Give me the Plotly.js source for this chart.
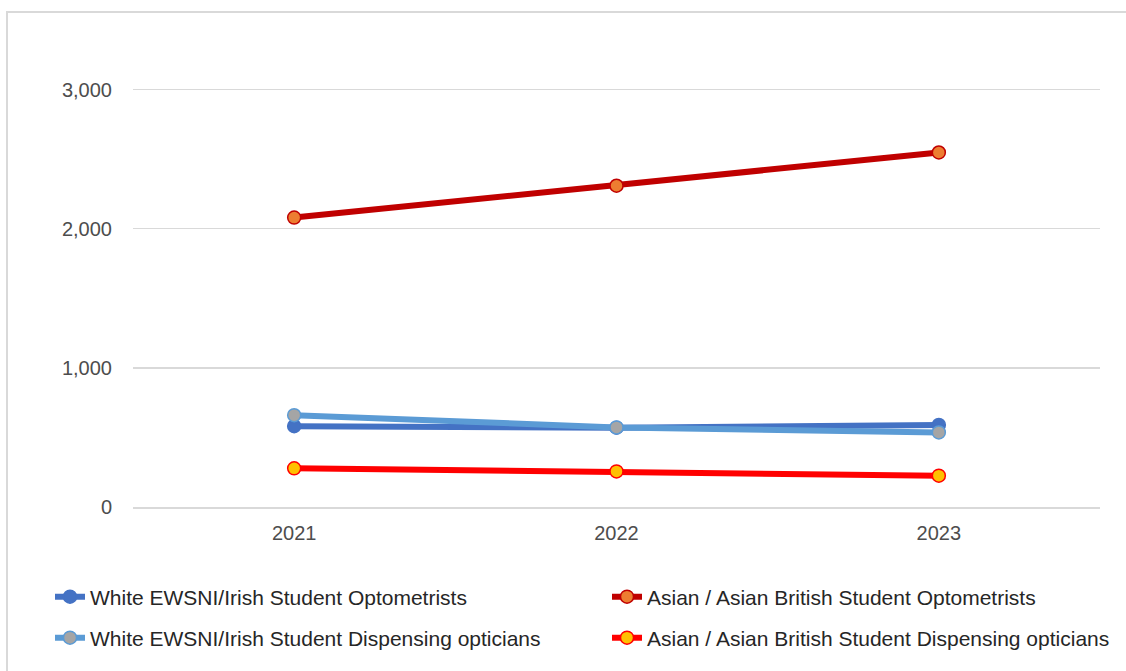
<!DOCTYPE html>
<html>
<head>
<meta charset="utf-8">
<script src="https://cdn.plot.ly/plotly-3.0.1.min.js"></script>
<style>
  html, body { margin: 0; padding: 0; overflow: hidden; background: #fff; }
  #frame { position: absolute; left: 6px; top: 11px; width: 1300px; height: 800px; border: 2px solid #d9d9d9; box-sizing: border-box; }
  #chart { position: absolute; left: 0; top: 0; width: 1126px; height: 671px; }
</style>
</head>
<body>
<div id="frame"></div>
<div id="chart"></div>
<script>
const years = ['2021', '2022', '2023'];
const whiteOptometrists = [581, 570, 590];
const asianOptometrists = [2080, 2309, 2548];
const whiteDispensing = [660, 572, 536];
const asianDispensing = [278, 256, 225];

const seriesNames = [
  'White EWSNI/Irish Student Optometrists',
  'Asian / Asian British Student Optometrists',
  'White EWSNI/Irish Student Dispensing opticians',
  'Asian / Asian British Student Dispensing opticians'
];

function trace(name, values, lineColor, fillColor, legendId) {
  return {
    type: 'scatter', mode: 'lines+markers', name: name, x: years, y: values,
    legend: legendId,
    line: { color: lineColor, width: 6 },
    marker: { size: 13, color: fillColor, line: { color: lineColor, width: 1.5 } },
    hoverinfo: 'x+y+name'
  };
}

const data = [
  trace(seriesNames[0], whiteOptometrists, '#4472C4', '#4472C4', 'legend'),
  trace(seriesNames[2], whiteDispensing, '#5B9BD5', '#A5A5A5', 'legend3'),
  trace(seriesNames[3], asianDispensing, '#FF0000', '#FFC000', 'legend4'),
  trace(seriesNames[1], asianOptometrists, '#C00000', '#ED7D31', 'legend2')
];

const W = 1126, H = 671;
function legendAt(px, py) {
  return {
    orientation: 'h', xref: 'container', yref: 'container',
    x: px / W, y: 1 - py / H, xanchor: 'left', yanchor: 'middle',
    font: { family: 'Liberation Sans, Arial, sans-serif', size: 21, color: '#262626' },
    bgcolor: 'rgba(0,0,0,0)'
  };
}

const layout = {
  width: W, height: H,
  paper_bgcolor: 'rgba(0,0,0,0)', plot_bgcolor: 'rgba(0,0,0,0)',
  margin: { l: 133, r: 26, t: 20, b: 164 },
  font: { family: 'Liberation Sans, Arial, sans-serif', color: '#4d4d4d' },
  xaxis: {
    type: 'category', range: [-0.5, 2.5], showgrid: false,
    showline: true, linecolor: '#d9d9d9', linewidth: 1.5,
    ticks: '', ticklabelstandoff: 7,
    tickfont: { size: 20, color: '#4d4d4d' }, zeroline: false
  },
  yaxis: {
    range: [0, 3500], tickvals: [0, 1000, 2000, 3000],
    ticktext: ['0', '1,000', '2,000', '3,000'],
    showgrid: true, gridcolor: '#d9d9d9', gridwidth: 1.5,
    zeroline: false, showline: false, ticks: '', ticklabelstandoff: 20,
    tickfont: { size: 20, color: '#4d4d4d' }
  },
  legend: legendAt(50, 597),
  legend2: legendAt(607, 597),
  legend3: legendAt(50, 638),
  legend4: legendAt(607, 638),
  showlegend: true
};

Plotly.newPlot('chart', data, layout, { displayModeBar: false, staticPlot: true });
</script>
</body>
</html>
